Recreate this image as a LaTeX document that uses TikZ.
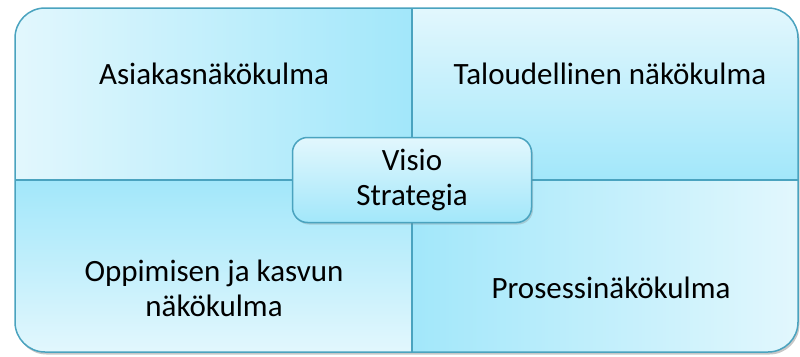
\documentclass[tikz,border=0pt]{standalone}
\usepackage{fontspec}
\setmainfont{Carlito}
\usetikzlibrary{positioning,calc,shadows}
\definecolor{bscPale}{RGB}{226,247,253}
\definecolor{bscDeep}{RGB}{162,231,250}
\definecolor{bscEdge}{RGB}{74,163,191}

\tikzset{
  quadtext/.style={font=\fontsize{31}{35}\selectfont, align=center, text=black},
  edgeline/.style={draw=bscEdge, line width=1.5pt},
  corebox/.style={edgeline, rounded corners=15pt, top color=bscPale, bottom color=bscDeep,
    minimum width=239pt, minimum height=85pt, quadtext,
    drop shadow={opacity=0.3, shadow xshift=1.5pt, shadow yshift=-2pt}}
}

\begin{document}
\begin{tikzpicture}[x=1pt, y=-1pt]
  \useasboundingbox (0,0) rectangle (800,356);

  % Frame corners
  \coordinate (nw) at (15,8);
  \coordinate (se) at (798,352);
  \coordinate (mid) at (412,180);

  % Shadow of the frame
  \fill[black!22, rounded corners=30pt] ($(nw)+(1.5,2.5)$) rectangle ($(se)+(1.5,2.5)$);

  % Quadrants
  \begin{scope}
    \clip[rounded corners=30pt] (nw) rectangle (se);
    \shade[left color=bscPale, right color=bscDeep] (nw) rectangle (mid);
    \shade[top color=bscPale, bottom color=bscDeep] (nw -| mid) rectangle (mid -| se);
    \shade[top color=bscDeep, bottom color=bscPale] (nw |- mid) rectangle (mid |- se);
    \shade[left color=bscDeep, right color=bscPale] (mid) rectangle (se);
  \end{scope}

  % Frame and dividers
  \draw[edgeline, rounded corners=30pt] (nw) rectangle (se);
  \draw[edgeline] (nw -| mid) -- (mid |- se);
  \draw[edgeline] (nw |- mid) -- (mid -| se);

  % Perspectives
  \node[quadtext] (asiakas) at (214,74) {Asiakasnäkökulma};
  \node[quadtext] (talous) at (610,74) {Taloudellinen näkökulma};
  \node[quadtext] (oppiminen) at (214,288) {Oppimisen ja kasvun\\näkökulma};
  \node[quadtext] (prosessi) at (611,288) {Prosessinäkökulma};

  % Centre
  \node[corebox] (visio) at (mid) {Visio\\Strategia};
\end{tikzpicture}
\end{document}
